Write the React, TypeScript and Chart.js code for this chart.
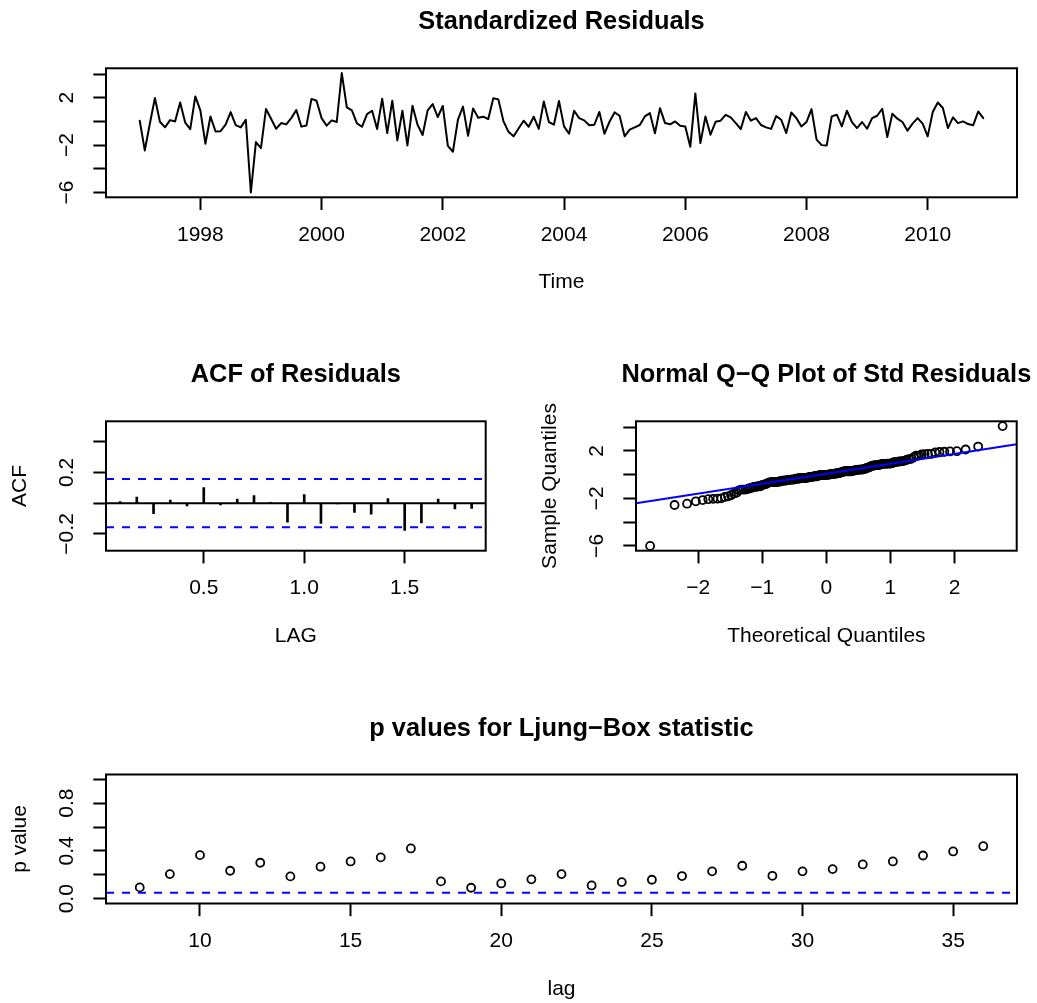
import React, { useEffect, useRef } from "react";
import { Chart, registerables } from "chart.js";

Chart.register(...registerables);

// ---------------- data ----------------
const residualStart = 1997;
const residualFrequency = 12;
// standardized residuals, monthly Jan 1997 .. Dec 2010 (one row per year)
const residuals = [
  0.06, -2.45, -0.2, 1.97, -0.03, -0.5, 0.11, 0.0, 1.6, -0.1, -0.65, 2.11,
  0.93, -1.88, 0.42, -0.84, -0.82, -0.28, 0.79, -0.31, -0.5, 0.14, -6.0, -1.74,
  -2.25, 1.05, 0.22, -0.62, -0.14, -0.25, 0.28, 0.96, -0.44, -0.35, 1.9, 1.74,
  0.28, -0.35, 0.09, -0.05, 4.08, 1.18, 0.93, -0.17, -0.45, 0.62, 0.9, -0.64,
  1.92, -0.98, 1.75, -1.6, 0.9, -2.03, 1.32, -0.28, -1.15, 0.93, 1.46, 0.37,
  1.3, -2.07, -2.56, 0.15, 1.25, -1.21, 1.1, 0.31, 0.4, 0.2, 1.95, 1.86,
  0.03, -0.88, -1.26, -0.6, 0.06, -0.45, 0.4, -0.63, 1.69, -0.05, -0.28, 1.72,
  -0.42, -1.04, 0.9, 0.28, 0.09, -0.33, -0.28, 0.8, -1.04, -0.03, 0.76, 0.48,
  -1.26, -0.7, -0.5, -0.3, 0.42, 0.7, -1.0, 1.12, -0.14, -0.24, 0.0, -0.36,
  -0.42, -2.14, 2.36, -1.83, 0.42, -1.12, -0.03, 0.06, 0.56, 0.34, -0.14, -0.64,
  0.8, 0.06, 0.28, -0.3, -0.5, -0.63, 0.45, 0.14, -0.98, 0.75, 0.28, -0.42,
  -0.05, 1.04, -1.54, -2.0, -2.04, 0.42, 0.57, -0.42, 0.9, -0.05, -0.56, -0.05,
  -0.62, 0.28, 0.48, 1.07, -1.32, 0.65, 0.23, -0.05, -0.78, -0.19, 0.28, -0.19,
  -1.26, 0.79, 1.6, 1.13, -0.56, 0.34, -0.14, 0.0, -0.22, -0.33, 0.84, 0.28,
];
const timeTicks = [1998, 2000, 2002, 2004, 2006, 2008, 2010];
const timeTickLabels = ["1998", "2000", "2002", "2004", "2006", "2008", "2010"];
const residTicks = [-6, -4, -2, 0, 2, 4];
const residTickLabels = ["\u22126", "", "\u22122", "", "2", ""];

const acfLagMonths = [1, 2, 3, 4, 5, 6, 7, 8, 9, 10, 11, 12, 13, 14, 15, 16, 17, 18, 19, 20, 21, 22];
const acfValues = [
  0.01, 0.039, -0.069, 0.02, -0.018, 0.101, -0.012, 0.026, 0.049, 0.006, -0.123,
  0.056, -0.131, -0.005, -0.06, -0.071, 0.03, -0.178, -0.129, 0.026, -0.037, -0.034,
];
const acfBound = 0.157;
const acfXTicks = [0.5, 1.0, 1.5];
const acfXTickLabels = ["0.5", "1.0", "1.5"];
const acfYTicks = [-0.2, 0, 0.2, 0.4];
const acfYTickLabels = ["\u22120.2", "", "0.2", ""];

const qqXTicks = [-2, -1, 0, 1, 2];
const qqXTickLabels = ["\u22122", "\u22121", "0", "1", "2"];

const lbLags = [8, 9, 10, 11, 12, 13, 14, 15, 16, 17, 18, 19, 20, 21, 22, 23, 24, 25, 26, 27, 28, 29, 30, 31, 32, 33, 34, 35, 36];
const lbPValues = [
  0.095, 0.206, 0.365, 0.234, 0.301, 0.187, 0.268, 0.312, 0.346, 0.421, 0.145,
  0.092, 0.128, 0.162, 0.206, 0.111, 0.139, 0.159, 0.19, 0.229, 0.276, 0.192,
  0.229, 0.248, 0.287, 0.312, 0.362, 0.396, 0.44,
];
const lbSignificance = 0.05;
const lbXTicks = [10, 15, 20, 25, 30, 35];
const lbXTickLabels = ["10", "15", "20", "25", "30", "35"];
const lbYTicks = [0, 0.2, 0.4, 0.6, 0.8, 1.0];
const lbYTickLabels = ["0.0", "", "0.4", "", "0.8", ""];

// ---------------- styling constants ----------------
const FONT = '"Liberation Sans", Arial, Helvetica, sans-serif';
const TICK_SIZE = 21;
const TITLE_SIZE = 25.4;
const TICK_LEN = 12.7;
const LINE_W = 2;
const Y_LABEL_OFFSET = 38.5;
const X_LABEL_OFFSET = 38;
const AXIS_TITLE_OFFSET = 85.3;
const TITLE_BASELINE_OFFSET = 38.9;
const BLUE = "#0000ff";

// ---------------- helpers ----------------
function rPad(lo: number, hi: number): [number, number] {
  const d = (hi - lo) * 0.04;
  return [lo - d, hi + d];
}

function qnorm(p: number): number {
  const a = [-3.969683028665376e1, 2.209460984245205e2, -2.759285104469687e2, 1.38357751867269e2, -3.066479806614716e1, 2.506628277459239];
  const b = [-5.447609879822406e1, 1.615858368580409e2, -1.556989798598866e2, 6.680131188771972e1, -1.328068155288572e1];
  const c = [-7.784894002430293e-3, -3.223964580411365e-1, -2.400758277161838, -2.549732539343734, 4.374664141464968, 2.938163982698783];
  const d = [7.784695709041462e-3, 3.224671290700398e-1, 2.445134137142996, 3.754408661907416];
  const plow = 0.02425;
  if (p < plow) {
    const q = Math.sqrt(-2 * Math.log(p));
    return (((((c[0] * q + c[1]) * q + c[2]) * q + c[3]) * q + c[4]) * q + c[5]) / ((((d[0] * q + d[1]) * q + d[2]) * q + d[3]) * q + 1);
  }
  if (p <= 1 - plow) {
    const q = p - 0.5;
    const r = q * q;
    return ((((((a[0] * r + a[1]) * r + a[2]) * r + a[3]) * r + a[4]) * r + a[5]) * q) / (((((b[0] * r + b[1]) * r + b[2]) * r + b[3]) * r + b[4]) * r + 1);
  }
  const q = Math.sqrt(-2 * Math.log(1 - p));
  return -(((((c[0] * q + c[1]) * q + c[2]) * q + c[3]) * q + c[4]) * q + c[5]) / ((((d[0] * q + d[1]) * q + d[2]) * q + d[3]) * q + 1);
}

function quantile7(sorted: number[], p: number): number {
  const h = (sorted.length - 1) * p;
  const lo = Math.floor(h);
  const hi = Math.ceil(h);
  return sorted[lo] + (h - lo) * (sorted[hi] - sorted[lo]);
}

let measureCtx: CanvasRenderingContext2D | null = null;
function measure(text: string): number {
  if (!measureCtx) measureCtx = document.createElement("canvas").getContext("2d");
  measureCtx!.font = `normal ${TICK_SIZE}px ${FONT}`;
  return text ? measureCtx!.measureText(text).width : 0;
}

const panelFramePlugin = {
  id: "panelFrame",
  afterDraw(chart: any, _args: any, opts: any) {
    const { ctx, chartArea } = chart;
    ctx.save();
    ctx.lineWidth = LINE_W;
    ctx.strokeStyle = "#000";
    ctx.strokeRect(chartArea.left, chartArea.top, chartArea.right - chartArea.left, chartArea.bottom - chartArea.top);
    ctx.font = `bold ${TITLE_SIZE}px ${FONT}`;
    ctx.fillStyle = "#000";
    ctx.textAlign = "center";
    ctx.textBaseline = "alphabetic";
    ctx.fillText(opts.text, (chartArea.left + chartArea.right) / 2, chartArea.top - TITLE_BASELINE_OFFSET);
    ctx.restore();
  },
};

interface PanelSpec {
  canvasW: number;
  canvasH: number;
  box: { left: number; top: number; right: number; bottom: number };
  xRange: [number, number];
  yRange: [number, number];
  xTicks: number[];
  xLabels: string[];
  yTicks: number[];
  yLabels: string[];
  xTitle: string;
  yTitle: string;
  title: string;
  datasets: any[];
}

function buildConfig(p: PanelSpec): any {
  const W = p.box.left;
  const H = p.canvasH - p.box.bottom;
  const lh = TICK_SIZE * 1.2;
  const widest = Math.max(...p.yLabels.map(measure));
  const yPad = Y_LABEL_OFFSET - TICK_LEN - widest / 2;
  const xPad = X_LABEL_OFFSET - TICK_LEN - lh / 2;
  const tickFont = { size: TICK_SIZE, family: FONT };
  return {
    type: "scatter",
    data: { datasets: p.datasets },
    plugins: [panelFramePlugin],
    options: {
      responsive: false,
      animation: false,
      devicePixelRatio: 1,
      events: [],
      layout: { padding: { left: 0, top: p.box.top, right: p.canvasW - p.box.right, bottom: 0 } },
      plugins: {
        legend: { display: false },
        tooltip: { enabled: false },
        title: { display: false },
        panelFrame: { text: p.title },
      },
      scales: {
        x: {
          type: "linear",
          position: "bottom",
          min: p.xRange[0],
          max: p.xRange[1],
          bounds: "data",
          offset: false,
          afterBuildTicks: (s: any) => {
            s.ticks = p.xTicks.map((v) => ({ value: v }));
          },
          afterFit: (s: any) => {
            s.height = H;
          },
          ticks: {
            autoSkip: false,
            maxRotation: 0,
            minRotation: 0,
            padding: xPad,
            font: tickFont,
            color: "#000",
            callback: (_v: any, i: number) => p.xLabels[i],
          },
          grid: {
            display: true,
            offset: false,
            drawOnChartArea: false,
            drawTicks: true,
            tickLength: TICK_LEN,
            tickWidth: LINE_W,
            tickColor: "#000",
          },
          border: { display: false },
          title: {
            display: !!p.xTitle,
            text: p.xTitle,
            font: tickFont,
            color: "#000",
            padding: { top: 0, bottom: H - AXIS_TITLE_OFFSET - lh / 2 },
          },
        },
        y: {
          type: "linear",
          position: "left",
          min: p.yRange[0],
          max: p.yRange[1],
          bounds: "data",
          offset: false,
          afterBuildTicks: (s: any) => {
            s.ticks = p.yTicks.map((v) => ({ value: v }));
          },
          afterFit: (s: any) => {
            s.width = W;
          },
          ticks: {
            autoSkip: false,
            minRotation: 90,
            maxRotation: 90,
            crossAlign: "center",
            padding: yPad,
            font: tickFont,
            color: "#000",
            callback: (_v: any, i: number) => p.yLabels[i],
          },
          grid: {
            display: true,
            offset: false,
            drawOnChartArea: false,
            drawTicks: true,
            tickLength: TICK_LEN,
            tickWidth: LINE_W,
            tickColor: "#000",
          },
          border: { display: false },
          title: {
            display: !!p.yTitle,
            text: p.yTitle,
            font: tickFont,
            color: "#000",
            padding: { top: W - AXIS_TITLE_OFFSET - lh / 2, bottom: 0 },
          },
        },
      },
    },
  };
}

function hLine(xr: [number, number], y: number, color: string, dash: number[]) {
  return {
    type: "line",
    data: [
      { x: xr[0], y },
      { x: xr[1], y },
    ],
    borderColor: color,
    borderWidth: LINE_W,
    borderDash: dash,
    pointRadius: 0,
    fill: false,
    tension: 0,
  };
}

export default function App() {
  const refA = useRef<HTMLCanvasElement>(null);
  const refB = useRef<HTMLCanvasElement>(null);
  const refC = useRef<HTMLCanvasElement>(null);
  const refD = useRef<HTMLCanvasElement>(null);

  useEffect(() => {
    Chart.defaults.font.family = FONT;
    Chart.defaults.color = "#000";

    // Panel A: standardized residuals over time
    const times = residuals.map((_, i) => residualStart + i / residualFrequency);
    const residRange = rPad(Math.min(...residuals), Math.max(...residuals));
    const timeRange = rPad(times[0], times[times.length - 1]);
    const cfgA = buildConfig({
      canvasW: 1037,
      canvasH: 334,
      box: { left: 106, top: 68.3, right: 1017, bottom: 197.3 },
      xRange: timeRange,
      yRange: residRange,
      xTicks: timeTicks,
      xLabels: timeTickLabels,
      yTicks: residTicks,
      yLabels: residTickLabels,
      xTitle: "Time",
      yTitle: "",
      title: "Standardized Residuals",
      datasets: [
        {
          type: "line",
          data: residuals.map((v, i) => ({ x: times[i], y: v })),
          borderColor: "#000",
          borderWidth: LINE_W,
          borderJoinStyle: "round",
          borderCapStyle: "round",
          pointRadius: 0,
          tension: 0,
          fill: false,
        },
      ],
    });

    // Panel B: ACF of residuals
    const acfLags = acfLagMonths.map((m) => m / residualFrequency);
    const acfXRange = rPad(acfLags[0], acfLags[acfLags.length - 1]);
    const acfYRange = rPad(Math.min(...acfValues) - 0.1, Math.min(1, Math.max(...acfValues) + 0.4));
    const cfgB = buildConfig({
      canvasW: 518,
      canvasH: 334,
      box: { left: 106, top: 87.3, right: 485.7, bottom: 216.7 },
      xRange: acfXRange,
      yRange: acfYRange,
      xTicks: acfXTicks,
      xLabels: acfXTickLabels,
      yTicks: acfYTicks,
      yLabels: acfYTickLabels,
      xTitle: "LAG",
      yTitle: "ACF",
      title: "ACF of Residuals",
      datasets: [
        hLine(acfXRange, acfBound, BLUE, [8, 8]),
        hLine(acfXRange, -acfBound, BLUE, [8, 8]),
        hLine(acfXRange, 0, "#000", []),
        {
          type: "bar",
          data: acfLags.map((x, i) => ({ x, y: acfValues[i] })),
          backgroundColor: "#000",
          borderWidth: 0,
          barThickness: LINE_W,
        },
      ],
    });

    // Panel C: normal Q-Q plot of the residuals
    const n = residuals.length;
    const sortedResid = [...residuals].sort((a, b) => a - b);
    const theoretical = sortedResid.map((_, i) => qnorm((i + 1 - 0.5) / n));
    const qqXRange = rPad(theoretical[0], theoretical[n - 1]);
    const y1 = quantile7(sortedResid, 0.25);
    const y3 = quantile7(sortedResid, 0.75);
    const x1 = qnorm(0.25);
    const x3 = qnorm(0.75);
    const slope = (y3 - y1) / (x3 - x1);
    const intercept = y1 - slope * x1;
    const cfgC = buildConfig({
      canvasW: 519,
      canvasH: 334,
      box: { left: 118, top: 87.3, right: 498.7, bottom: 216.7 },
      xRange: qqXRange,
      yRange: residRange,
      xTicks: qqXTicks,
      xLabels: qqXTickLabels,
      yTicks: residTicks,
      yLabels: residTickLabels,
      xTitle: "Theoretical Quantiles",
      yTitle: "Sample Quantiles",
      title: "Normal Q\u2212Q Plot of Std Residuals",
      datasets: [
        {
          type: "line",
          data: [
            { x: qqXRange[0], y: intercept + slope * qqXRange[0] },
            { x: qqXRange[1], y: intercept + slope * qqXRange[1] },
          ],
          borderColor: BLUE,
          borderWidth: LINE_W,
          pointRadius: 0,
          fill: false,
        },
        {
          type: "scatter",
          data: sortedResid.map((v, i) => ({ x: theoretical[i], y: v })),
          pointStyle: "circle",
          pointRadius: 4,
          pointBorderWidth: 1.8,
          pointBorderColor: "#000",
          pointBackgroundColor: "rgba(0,0,0,0)",
        },
      ],
    });

    // Panel D: Ljung-Box p values
    const lbXRange = rPad(lbLags[0], lbLags[lbLags.length - 1]);
    const lbYRange = rPad(0, 1);
    const cfgD = buildConfig({
      canvasW: 1037,
      canvasH: 335,
      box: { left: 106, top: 106.5, right: 1017, bottom: 235.5 },
      xRange: lbXRange,
      yRange: lbYRange,
      xTicks: lbXTicks,
      xLabels: lbXTickLabels,
      yTicks: lbYTicks,
      yLabels: lbYTickLabels,
      xTitle: "lag",
      yTitle: "p value",
      title: "p values for Ljung\u2212Box statistic",
      datasets: [
        hLine(lbXRange, lbSignificance, BLUE, [8, 8]),
        {
          type: "scatter",
          data: lbLags.map((x, i) => ({ x, y: lbPValues[i] })),
          pointStyle: "circle",
          pointRadius: 4,
          pointBorderWidth: 1.8,
          pointBorderColor: "#000",
          pointBackgroundColor: "rgba(0,0,0,0)",
        },
      ],
    });

    const charts = [
      new Chart(refA.current!, cfgA),
      new Chart(refB.current!, cfgB),
      new Chart(refC.current!, cfgC),
      new Chart(refD.current!, cfgD),
    ];
    return () => charts.forEach((c) => c.destroy());
  }, []);

  return (
    <div style={{ position: "absolute", left: 0, top: 0, width: 1037, height: 1003, background: "#fff", overflow: "hidden" }}>
      <canvas ref={refA} width={1037} height={334} style={{ position: "absolute", left: 0, top: 0 }} />
      <canvas ref={refB} width={518} height={334} style={{ position: "absolute", left: 0, top: 334 }} />
      <canvas ref={refC} width={519} height={334} style={{ position: "absolute", left: 518, top: 334 }} />
      <canvas ref={refD} width={1037} height={335} style={{ position: "absolute", left: 0, top: 668 }} />
    </div>
  );
}
